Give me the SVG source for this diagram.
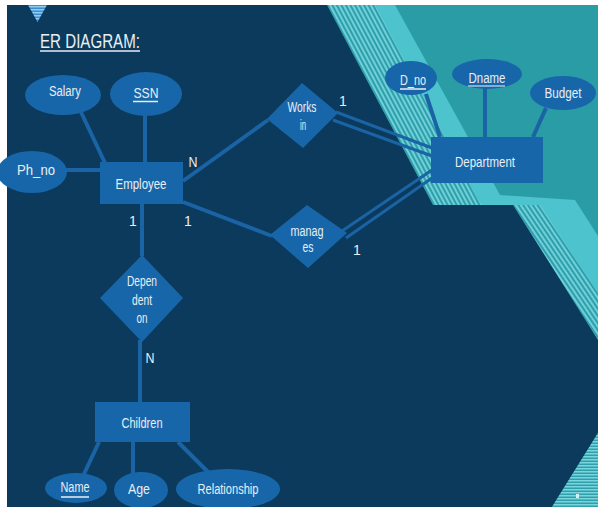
<svg xmlns="http://www.w3.org/2000/svg" width="598" height="510" viewBox="0 0 598 510">
  <defs>
    <style>
      .node { fill: #1866aa; }
      .conn line { stroke: #1a63a4; stroke-width: 4; stroke-linecap: butt; }
      .conn .dbl { stroke-width: 3; }
      text { font-family: "Liberation Sans", Arial, sans-serif; fill: #e8eef2; }
      .lbl { font-size: 14px; text-anchor: middle; }
      .card { font-size: 14px; text-anchor: middle; }
      .ul { stroke: #e8eef2; stroke-width: 1.5; }
    </style>
    <!-- diagonal stripe fills for the teal accent bands -->
    <pattern id="stripesA" width="4" height="4" patternUnits="userSpaceOnUse" patternTransform="rotate(-28)">
      <rect width="4" height="4" fill="#2f9fab"/>
      <rect width="2" height="4" fill="#70d0d8"/>
    </pattern>
    <pattern id="stripesB" width="4" height="4" patternUnits="userSpaceOnUse" patternTransform="rotate(-34)">
      <rect width="4" height="4" fill="#2f9fab"/>
      <rect width="2" height="4" fill="#70d0d8"/>
    </pattern>
    <pattern id="stripesH" width="4" height="3" patternUnits="userSpaceOnUse">
      <rect width="4" height="3" fill="#2f9fab"/>
      <rect width="4" height="1.5" fill="#7ad6dd"/>
    </pattern>
    <pattern id="stripesTab" width="4" height="3" patternUnits="userSpaceOnUse">
      <rect width="4" height="3" fill="#3a8fd0"/>
      <rect width="4" height="1.5" fill="#8fcaf0"/>
    </pattern>
    <clipPath id="slide">
      <rect x="7" y="5" width="591" height="502"/>
    </clipPath>
  </defs>

  <rect width="598" height="510" fill="#ffffff"/>

  <!-- slide background -->
  <g id="background" clip-path="url(#slide)">
    <rect x="7" y="5" width="591" height="502" fill="#2a9ca6"/>
    <polygon points="327,5 395,5 500,195 575,200 598,236 598,340 513,205 433,205" fill="#4cc3cd"/>
    <polygon points="327,5 375,5 478,200 482,205 433,205" fill="url(#stripesA)"/>
    <polygon points="513,205 540,205 598,293 598,340" fill="url(#stripesB)"/>
    <polygon points="7,5 327,5 433,205 513,205 598,340 598,433 552,507 7,507" fill="#0c3a5c"/>
    <polygon points="598,433 598,507 552,507" fill="url(#stripesH)"/>
    <rect x="576" y="494" width="3" height="4" fill="#d8f2f4"/>
    <polygon points="28,5 47,5 37.5,22" fill="url(#stripesTab)"/>
  </g>

  <!-- title -->
  <g id="title">
    <text x="40" y="48" font-size="21" textLength="100" lengthAdjust="spacingAndGlyphs">ER DIAGRAM:</text>
    <line class="ul" x1="40" y1="51" x2="140" y2="51"/>
  </g>

  <!-- connectors and cardinalities -->
  <g id="connectors" class="conn">
    <line x1="80" y1="110" x2="105" y2="163"/>
    <line x1="145" y1="115" x2="145" y2="162"/>
    <line x1="66" y1="170" x2="100" y2="170"/>
    <line x1="183" y1="181" x2="268" y2="120"/>
    <line x1="183" y1="202" x2="272" y2="236"/>
    <line class="dbl" x1="336" y1="112" x2="432" y2="148"/>
    <line class="dbl" x1="333" y1="120" x2="432" y2="156"/>
    <line class="dbl" x1="342" y1="231" x2="432" y2="170"/>
    <line class="dbl" x1="346" y1="238" x2="432" y2="178"/>
    <line x1="142" y1="204" x2="142" y2="256"/>
    <line x1="140" y1="340" x2="140" y2="402"/>
    <line x1="99" y1="442" x2="84" y2="474"/>
    <line x1="133" y1="442" x2="133" y2="473"/>
    <line x1="178" y1="442" x2="208" y2="472"/>
    <line x1="426" y1="94" x2="440" y2="137"/>
    <line x1="485" y1="88" x2="485" y2="137"/>
    <line x1="546" y1="108" x2="533" y2="137"/>

    <text class="card" x="193" y="167" textLength="9" lengthAdjust="spacingAndGlyphs">N</text>
    <text class="card" x="343" y="106">1</text>
    <text class="card" x="133" y="226">1</text>
    <text class="card" x="188" y="226">1</text>
    <text class="card" x="357" y="255">1</text>
    <text class="card" x="150" y="363" textLength="9" lengthAdjust="spacingAndGlyphs">N</text>
  </g>

  <!-- attributes of Employee -->
  <g id="attr-salary">
    <ellipse class="node" cx="63" cy="95" rx="38" ry="20"/>
    <text class="lbl" x="65" y="96" textLength="32" lengthAdjust="spacingAndGlyphs">Salary</text>
  </g>
  <g id="attr-ssn">
    <ellipse class="node" cx="146" cy="94" rx="36" ry="22"/>
    <text class="lbl" x="146" y="98" textLength="25" lengthAdjust="spacingAndGlyphs">SSN</text>
    <line class="ul" x1="133" y1="101.5" x2="158" y2="101.5"/>
  </g>
  <g id="attr-phno">
    <ellipse class="node" cx="32" cy="172" rx="35" ry="21"/>
    <text class="lbl" x="36" y="175" textLength="38" lengthAdjust="spacingAndGlyphs">Ph_no</text>
  </g>

  <!-- entities -->
  <g id="employee">
    <rect class="node" x="100" y="162" width="83" height="42"/>
    <text class="lbl" x="141" y="189" textLength="51" lengthAdjust="spacingAndGlyphs">Employee</text>
  </g>
  <g id="department">
    <rect class="node" x="431" y="137" width="112" height="46"/>
    <text class="lbl" x="485" y="167" textLength="60" lengthAdjust="spacingAndGlyphs">Department</text>
  </g>
  <g id="children">
    <rect class="node" x="95" y="402" width="95" height="40"/>
    <text class="lbl" x="142" y="428" textLength="41" lengthAdjust="spacingAndGlyphs">Children</text>
  </g>

  <!-- relationships -->
  <g id="works-in">
    <polygon class="node" points="302,83 338,113 303,148 267,119"/>
    <text class="lbl" x="302" y="112" font-size="13" textLength="29" lengthAdjust="spacingAndGlyphs">Works</text>
    <text class="lbl" x="303" y="130" font-size="12" textLength="6" lengthAdjust="spacingAndGlyphs">in</text>
  </g>
  <g id="manages">
    <polygon class="node" points="307,205 347,233 308,268 270,235"/>
    <text class="lbl" x="307" y="236" font-size="13" textLength="33" lengthAdjust="spacingAndGlyphs">manag</text>
    <text class="lbl" x="308" y="252" font-size="13" textLength="11" lengthAdjust="spacingAndGlyphs">es</text>
  </g>
  <g id="dependent-on">
    <polygon class="node" points="142,255 183,298 142,342 100,298"/>
    <text class="lbl" x="142" y="286" font-size="13" textLength="30" lengthAdjust="spacingAndGlyphs">Depen</text>
    <text class="lbl" x="142" y="305" font-size="13" textLength="20" lengthAdjust="spacingAndGlyphs">dent</text>
    <text class="lbl" x="142" y="323" font-size="13" textLength="11" lengthAdjust="spacingAndGlyphs">on</text>
  </g>

  <!-- attributes of Department -->
  <g id="attr-dno">
    <ellipse class="node" cx="411" cy="78" rx="26" ry="17"/>
    <text class="lbl" x="413" y="85" textLength="26" lengthAdjust="spacingAndGlyphs">D_no</text>
    <line class="ul" x1="400" y1="89" x2="426" y2="89"/>
  </g>
  <g id="attr-dname">
    <ellipse class="node" cx="487" cy="74" rx="35" ry="15"/>
    <text class="lbl" x="487" y="83" textLength="37" lengthAdjust="spacingAndGlyphs">Dname</text>
    <line class="ul" x1="468" y1="86" x2="505" y2="86" stroke-width="1" opacity="0.7"/>
  </g>
  <g id="attr-budget">
    <ellipse class="node" cx="563" cy="93" rx="33" ry="17"/>
    <text class="lbl" x="563" y="98" textLength="37" lengthAdjust="spacingAndGlyphs">Budget</text>
  </g>

  <!-- attributes of Children -->
  <g id="attr-name">
    <ellipse class="node" cx="76" cy="488" rx="31" ry="15"/>
    <text class="lbl" x="75" y="492" textLength="29" lengthAdjust="spacingAndGlyphs">Name</text>
    <line class="ul" x1="61" y1="497" x2="89" y2="497"/>
  </g>
  <g id="attr-age" clip-path="url(#slide)">
    <ellipse class="node" cx="141" cy="490" rx="27" ry="18"/>
    <text class="lbl" x="139" y="494" textLength="22" lengthAdjust="spacingAndGlyphs">Age</text>
  </g>
  <g id="attr-relationship" clip-path="url(#slide)">
    <ellipse class="node" cx="228" cy="489" rx="52" ry="20"/>
    <text class="lbl" x="228" y="494" textLength="61" lengthAdjust="spacingAndGlyphs">Relationship</text>
  </g>
</svg>
